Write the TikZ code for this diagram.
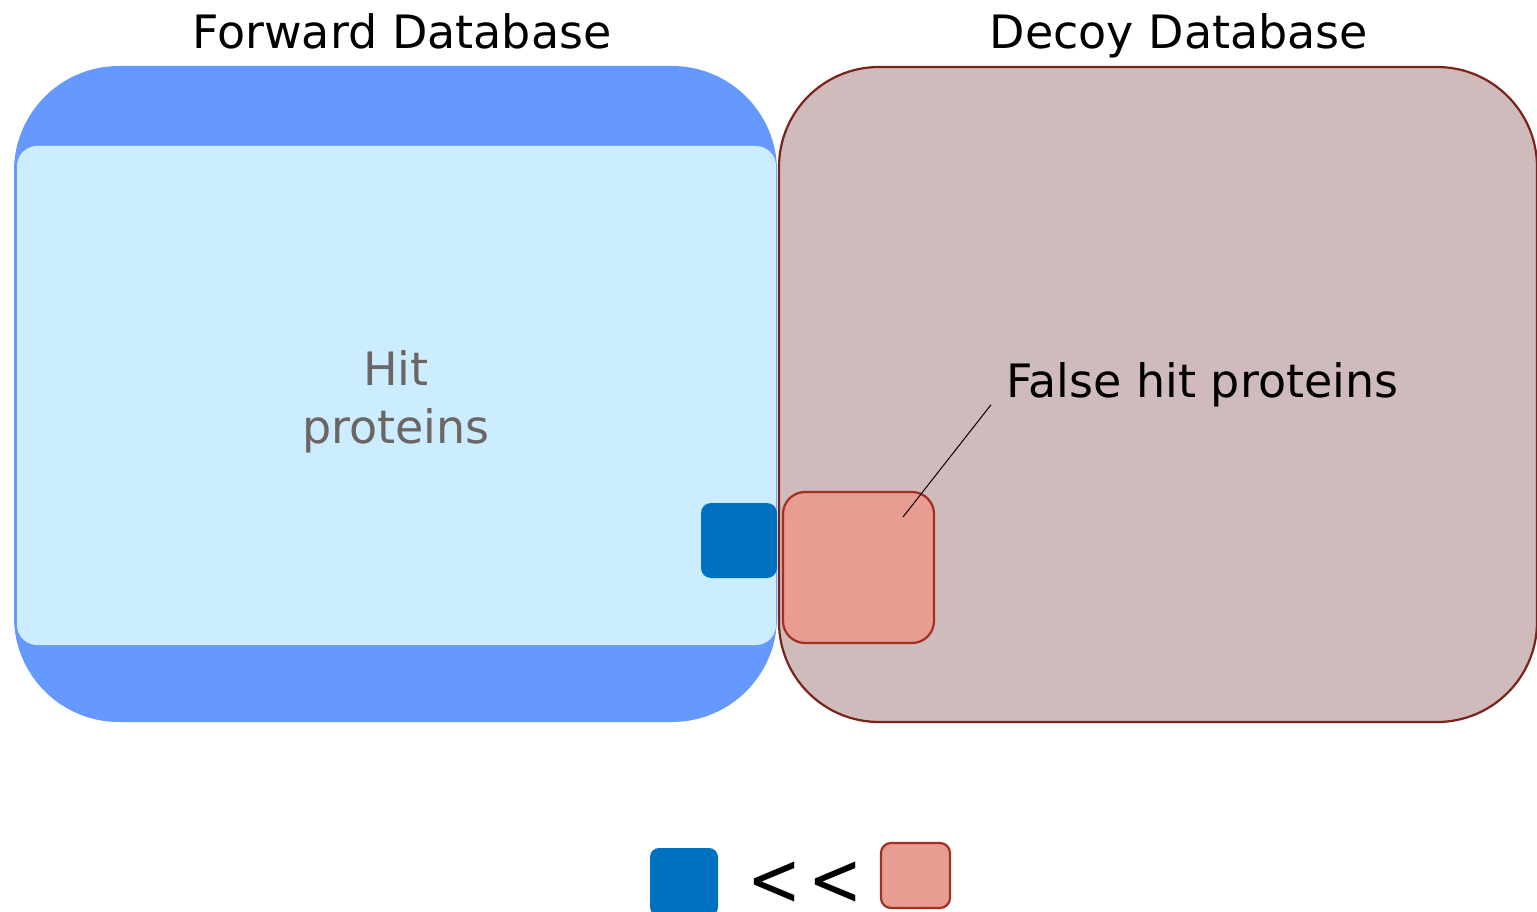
\documentclass[tikz,border=0pt]{standalone}
\usepackage{fontspec}
\setmainfont{DejaVu Sans}
\definecolor{fwdouter}{HTML}{6699FF}
\definecolor{fwdinner}{HTML}{CCECFF}
\definecolor{hitblue}{HTML}{0070C0}
\definecolor{decoyfill}{HTML}{D0BBBC}
\definecolor{decoyline}{HTML}{7A2318}
\definecolor{falsefill}{HTML}{E99C92}
\definecolor{falseline}{HTML}{A0301F}
\definecolor{hittext}{HTML}{6B6564}
\tikzset{
  box/.style={rectangle, inner sep=0pt, outer sep=0pt},
  title/.style={font=\fontsize{46}{55}\selectfont, anchor=base, inner sep=0pt},
  hitbox/.style={box, fill=hitblue, draw=none},
  falsebox/.style={box, fill=falsefill, draw=falseline, line width=2.2pt},
}
\begin{document}
\begin{tikzpicture}[x=1pt,y=-1pt]
\useasboundingbox (0,0) rectangle (1537,912);
% forward database
\node[box, fill=fwdouter, minimum width=763pt, minimum height=656pt, rounded corners=105pt]
  (fwd) at (395.5,394) {};
\node[box, fill=fwdinner, minimum width=759pt, minimum height=499pt, rounded corners=20pt]
  (fwdin) at (396.5,395.5) {};
% decoy database
\node[box, fill=decoyfill, draw=decoyline, line width=2.2pt, minimum width=758pt,
  minimum height=655pt, rounded corners=100pt] (decoy) at (1158,394.5) {};
% titles
\node[title] (tfwd) at (402,49) {Forward Database};
\node[title] (tdecoy) at (1179,49) {Decoy Database};
% hit protein areas
\node[hitbox, minimum width=76pt, minimum height=75pt, rounded corners=10pt] (hit) at (739,540.5) {};
\node[falsebox, minimum width=151pt, minimum height=151pt, rounded corners=22pt] (false) at (858.5,567.5) {};
% labels
\node[title, text=hittext] (hitlbl) at (396,385) {Hit};
\node[title, text=hittext] (hitlbl2) at (396,443) {proteins};
\node[title, anchor=base west] (fhlbl) at (1006,397) {False hit proteins};
\coordinate (ptr) at (903,517);
\coordinate (lblend) at ([xshift=-15pt,yshift=2pt]fhlbl.south west);
\draw[line width=1pt] (ptr) -- (lblend);
% legend
\node[hitbox, minimum width=68pt, minimum height=68pt, rounded corners=9pt] (leghit) at (684,882) {};
\node[falsebox, minimum width=69pt, minimum height=65pt, rounded corners=10pt] (legfalse) at (915.5,875.5) {};
\node[font=\fontsize{75}{80}\selectfont, inner sep=0pt, anchor=base, text depth=0pt,
  text height=50pt] (lt) at (805,905) {\scalebox{0.86}[1]{<\kern7pt<}};
\end{tikzpicture}
\end{document}
